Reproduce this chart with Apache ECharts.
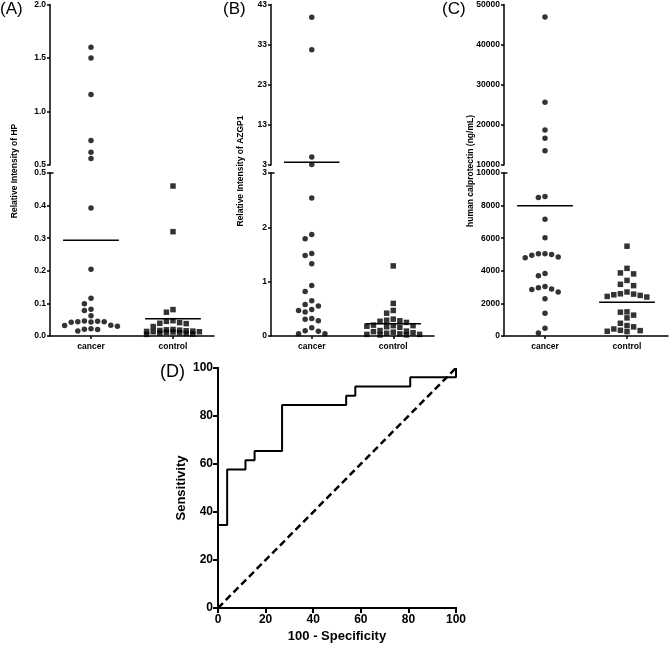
<!DOCTYPE html>
<html><head><meta charset="utf-8">
<script src="https://cdn.jsdelivr.net/npm/echarts@6/dist/echarts.min.js"></script>
<style>html,body{margin:0;padding:0;background:#fff}#c{width:669px;height:646px}</style>
</head><body><div id="c"></div>
<script>
// ---------- data ----------
const categories = ['cancer', 'control'];
const hpCancer = [1.60, 1.50, 1.16, 0.73, 0.62, 0.56, 0.393, 0.205, 0.116, 0.099, 0.082, 0.078, 0.062,
  0.046, 0.045, 0.044, 0.044, 0.043, 0.042, 0.033, 0.032, 0.030, 0.022, 0.021, 0.020, 0.015];
const hpControl = [0.46, 0.32, 0.081, 0.073, 0.047, 0.045, 0.041, 0.039, 0.038, 0.029,
  0.020, 0.019, 0.018, 0.017, 0.016, 0.015, 0.014, 0.013, 0.013, 0.012, 0.011, 0.010, 0.009, 0.008, 0.006, 0.005];
const azgpCancer = [39.8, 31.7, 5.0, 3.15, 2.54, 1.87, 1.79, 1.52, 1.48, 1.33, 0.93, 0.82, 0.65, 0.58, 0.55,
  0.49, 0.47, 0.44, 0.32, 0.31, 0.28, 0.15, 0.098, 0.087, 0.04, 0.04];
const azgpControl = [1.29, 0.60, 0.47, 0.42, 0.31, 0.29, 0.28, 0.27, 0.25, 0.20, 0.19, 0.19, 0.18, 0.17, 0.16,
  0.10, 0.09, 0.08, 0.07, 0.06, 0.05, 0.04, 0.03, 0.03, 0.02, 0.02];
const calCancer = [46860, 25630, 18720, 16670, 13530, 8560, 8500, 7160, 6030, 5040, 5000, 4840, 4800, 4950, 5040,
  3830, 3690, 3040, 2960, 2880, 2860, 2700, 2280, 1400, 475, 185];
const calControl = [5510, 4150, 3870, 3810, 3410, 3170, 3090, 2700, 2590, 2570, 2530, 2490, 2430, 2390,
  1480, 1460, 1280, 1110, 780, 640, 560, 430, 350, 330, 290, 270];
const hpUpperTicks = [0.5, 1.0, 1.5, 2.0];
const hpLowerTicks = [0, 0.1, 0.2, 0.3, 0.4, 0.5];
const azgpUpperTicks = [3, 13, 23, 33, 43];
const azgpLowerTicks = [0, 1, 2, 3];
const calUpperTicks = [10000, 20000, 30000, 40000, 50000];
const calLowerTicks = [0, 2000, 4000, 6000, 8000, 10000];
const rocFpr = [0, 0, 3.85, 3.85, 11.54, 11.54, 15.38, 15.38, 26.92, 26.92, 53.85, 53.85, 57.69, 57.69, 80.77, 80.77, 100, 100];
const rocTpr = [0, 34.62, 34.62, 57.69, 57.69, 61.54, 61.54, 65.38, 65.38, 84.62, 84.62, 88.46, 88.46, 92.31, 92.31, 96.15, 96.15, 100];
const refFpr = [0, 100];
const refTpr = [0, 100];
const rocTicks = [0, 20, 40, 60, 80, 100];

// ---------- layout ----------
const FONT = '"Liberation Sans", Arial, sans-serif';
const UP_TOP = 4, UP_H = 161, LO_TOP = 173, LO_H = 163;
const CAT_POS = [1, 3];
const panels = [
  {left: 50, width: 164, label: '(A)', labelX: 0, name: 'Relative Intensity of HP', nameX: 15,
   groups: [hpCancer, hpControl], up: hpUpperTicks, lo: hpLowerTicks, fmt: v => v.toFixed(1)},
  {left: 271, width: 163, label: '(B)', labelX: 223, name: 'Relative Intensity of AZGP1', nameX: 241,
   groups: [azgpCancer, azgpControl], up: azgpUpperTicks, lo: azgpLowerTicks, fmt: v => String(Math.round(v))},
  {left: 504, width: 164, label: '(C)', labelX: 442, name: 'human calprotectin (ng/mL)', nameX: 471,
   groups: [calCancer, calControl], up: calUpperTicks, lo: calLowerTicks, fmt: v => String(Math.round(v))}
];

// column-based swarm with limited width (overlaps when a band is too crowded)
const STEP = 6.6, ROWH = 6, KMAX = 4;
function swarm(vals, center, min, max, h, unit) {
  const placed = [], out = [];
  const sorted = vals.slice().sort((a, b) => b - a);
  const order = [0];
  for (let i = 1; i <= KMAX; i++) order.push(-i, i);
  for (const v of sorted) {
    const y = (v - min) / (max - min) * h;
    let best = 0, bestGap = -1;
    for (const k of order) {
      const col = placed.filter(p => p.k === k);
      const gap = col.length ? Math.min(...col.map(p => Math.abs(p.y - y))) : Infinity;
      if (gap >= ROWH) { best = k; bestGap = gap; break; }
      if (gap > bestGap + 0.01) { best = k; bestGap = gap; }
    }
    placed.push({k: best, y});
    out.push([center + best * STEP / unit, v]);
  }
  return out;
}

const grid = [], xAxis = [], yAxis = [], series = [], graphic = [];
const axisLineStyle = {color: '#000', width: 1.5};
const labelStyle = {color: '#000', fontFamily: FONT, fontWeight: 'bold', fontSize: 8.5};

panels.forEach((p, pi) => {
  const gU = 2 * pi, gL = 2 * pi + 1;
  grid.push({left: p.left, width: p.width, top: UP_TOP, height: UP_H});
  grid.push({left: p.left, width: p.width, top: LO_TOP, height: LO_H});
  xAxis.push({type: 'value', gridIndex: gU, min: 0, max: 4, show: false});
  xAxis.push({type: 'value', gridIndex: gL, min: 0, max: 4,
    axisLine: {show: true, lineStyle: axisLineStyle},
    axisTick: {show: true, length: 3, lineStyle: axisLineStyle, customValues: CAT_POS},
    axisLabel: Object.assign({customValues: CAT_POS, margin: 6,
      formatter: v => categories[CAT_POS.indexOf(Math.round(v))] || ''}, labelStyle),
    splitLine: {show: false}});
  [[gU, p.up], [gL, p.lo]].forEach(([g, ticks]) => {
    yAxis.push({type: 'value', gridIndex: g, min: ticks[0], max: ticks[ticks.length - 1],
      axisLine: {show: true, lineStyle: axisLineStyle},
      axisTick: {show: true, length: 3, lineStyle: axisLineStyle, customValues: ticks},
      axisLabel: Object.assign({customValues: ticks, margin: 4, formatter: p.fmt}, labelStyle),
      splitLine: {show: false}});
  });
  const brk = p.lo[p.lo.length - 1];
  const unit = p.width / 4;
  p.groups.forEach((vals, ci) => {
    const c = CAT_POS[ci];
    const sym = ci === 0 ? 'circle' : 'rect';
    const size = 5.5;
    const upVals = vals.filter(v => v > brk), loVals = vals.filter(v => v <= brk);
    if (upVals.length) series.push({type: 'scatter', xAxisIndex: gU, yAxisIndex: gU, symbol: sym, symbolSize: size,
      itemStyle: {color: '#000'}, silent: true,
      data: swarm(upVals, c, p.up[0], p.up[p.up.length - 1], UP_H, unit)});
    if (loVals.length) series.push({type: 'scatter', xAxisIndex: gL, yAxisIndex: gL, symbol: sym, symbolSize: size,
      itemStyle: {color: '#000'}, silent: true,
      data: swarm(loVals, c, p.lo[0], brk, LO_H, unit)});
    const mean = vals.reduce((a, b) => a + b, 0) / vals.length;
    const g = mean > brk ? gU : gL;
    series.push({type: 'line', xAxisIndex: g, yAxisIndex: g, symbol: 'none', silent: true,
      lineStyle: {color: '#000', width: 1.5}, data: [[c - 0.68, mean], [c + 0.68, mean]]});
  });
  graphic.push({type: 'text', left: p.labelX, top: 1, style: {text: p.label, font: '17px ' + FONT, fill: '#000'}});
  graphic.push({type: 'text', x: p.nameX, y: 171, rotation: Math.PI / 2,
    style: {text: p.name, font: 'bold 8.5px ' + FONT, fill: '#000', align: 'center', verticalAlign: 'middle'}});
  graphic.push({type: 'line', shape: {x1: p.left, y1: LO_TOP, x2: p.left + 3.5, y2: LO_TOP},
    style: {stroke: '#000', lineWidth: 1.5}});
});

// ROC panel
const rocGrid = {left: 218, right: 213, top: 368, bottom: 38};
grid.push(rocGrid);
const bigLine = {color: '#000', width: 2};
const bigLabel = {color: '#000', fontFamily: FONT, fontWeight: 'bold', fontSize: 12};
xAxis.push({type: 'value', gridIndex: 6, min: 0, max: 100, position: 'bottom',
  name: '100 - Specificity', nameLocation: 'middle', nameGap: 22,
  nameTextStyle: {color: '#000', fontFamily: FONT, fontWeight: 'bold', fontSize: 13},
  axisLine: {lineStyle: bigLine}, axisTick: {length: 4, lineStyle: bigLine, customValues: rocTicks},
  axisLabel: Object.assign({customValues: rocTicks, margin: 6}, bigLabel), splitLine: {show: false}});
xAxis.push({type: 'value', gridIndex: 6, min: 0, max: 100, position: 'top',
  axisLine: {lineStyle: bigLine}, axisTick: {inside: true, length: 5, lineStyle: bigLine, customValues: rocTicks},
  axisLabel: {show: false}, splitLine: {show: false}});
yAxis.push({type: 'value', gridIndex: 6, min: 0, max: 100, position: 'left',
  name: 'Sensitivity', nameLocation: 'middle', nameGap: 30,
  nameTextStyle: {color: '#000', fontFamily: FONT, fontWeight: 'bold', fontSize: 13},
  axisLine: {lineStyle: bigLine}, axisTick: {length: 4, lineStyle: bigLine, customValues: rocTicks},
  axisLabel: Object.assign({customValues: rocTicks, margin: 5}, bigLabel), splitLine: {show: false}});
yAxis.push({type: 'value', gridIndex: 6, min: 0, max: 100, position: 'right',
  axisLine: {lineStyle: bigLine}, axisTick: {inside: true, length: 5, lineStyle: bigLine, customValues: rocTicks},
  axisLabel: {show: false}, splitLine: {show: false}});
series.push({type: 'line', xAxisIndex: 6, yAxisIndex: 6, symbol: 'none', silent: true,
  lineStyle: {color: '#000', width: 2.5, type: [7, 4]}, data: refFpr.map((x, i) => [x, refTpr[i]])});
series.push({type: 'line', xAxisIndex: 6, yAxisIndex: 6, symbol: 'none', silent: true,
  lineStyle: {color: '#000', width: 2}, data: rocFpr.map((x, i) => [x, rocTpr[i]])});
graphic.push({type: 'text', left: 160, top: 363, style: {text: '(D)', font: '18px ' + FONT, fill: '#000'}});

const chart = echarts.init(document.getElementById('c'), null, {renderer: 'canvas'});
chart.setOption({animation: false, backgroundColor: '#fff', grid, xAxis, yAxis, series, graphic});
</script></body></html>
